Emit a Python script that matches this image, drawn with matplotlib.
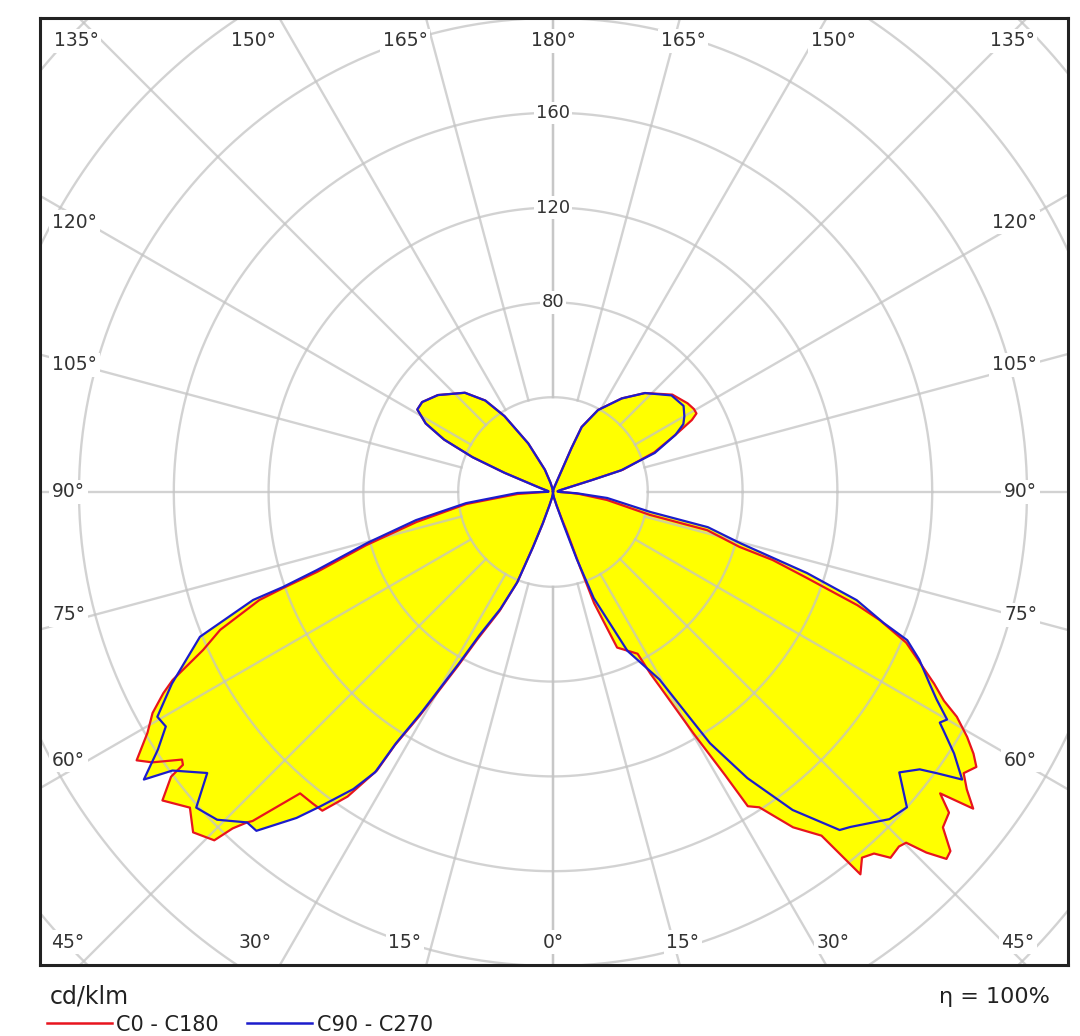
import numpy as np
import matplotlib
matplotlib.use("Agg")
import matplotlib.pyplot as plt
from matplotlib.lines import Line2D

# ---------------- data (gamma in degrees, intensity in cd/klm) ----------------
# C0 (right half of C0-C180)
gamma_c0 = [0, 5, 10, 15, 18, 19.2, 19.8, 20.3, 22.4, 27.6, 28.2, 28.8, 30.2, 31.3, 31.8,
            33.2, 35.6, 38.0, 38.8, 40.2, 41.6, 42.7, 44.3, 45.2, 46.0, 47.0, 47.9, 49.3, 51.0, 52.1,
            53.0, 54.3, 55.6, 57.0, 58.1, 59.4, 60.9, 61.9, 63.3, 65.0, 66.9, 68.6, 69.6, 71.3, 72.8,
            73.6, 76.1, 76.7, 81.6, 85.8, 88, 90, 95, 100, 104, 106, 107.1, 107.7, 111.4, 115.3,
            117.4, 118.7, 120.5, 123.4, 129.2, 137.1, 143.7, 151.2, 156.2, 157.2, 157.8, 160, 165, 170, 180]
cd_c0 = [0, 1, 2.5, 6, 12, 17, 34, 50, 71, 77, 87, 94, 118, 140, 156,
         159, 174, 184, 207, 202, 204, 210, 209, 210, 219, 227, 226, 217, 215, 207,
         222, 215, 210, 213, 209, 203, 195, 187, 180, 171, 162, 148, 137, 113, 97,
         82, 67, 42, 23, 11, 6, 3, 2, 2, 3, 6, 17, 31, 46, 58,
         66, 69, 69, 68, 65, 57, 49, 39.5, 30, 20, 12, 5, 2, 1, 0]

# C180 (left half of C0-C180)
gamma_c180 = [0, 5, 10, 15, 18, 20.0, 21.6, 24.2, 27.2, 28.7, 30.8, 32.0, 32.3, 34.0, 35.9,
              37.7, 40.0, 42.4, 42.8, 43.6, 44.2, 46.6, 49.0, 51.7, 53.3, 53.6, 54.2, 56.0, 57.2, 59.3,
              61.1, 62.7, 63.7, 65.7, 67.5, 69.8, 70.4, 71.3, 74.1, 77.6, 82.1, 86.8, 89, 92, 100,
              104, 107, 108.4, 111.6, 113.4, 115.7, 118.3, 121.3, 124.5, 130.1, 138.4, 143.5, 147.4, 153.0, 160.0,
              165, 170, 180]
cd_c180 = [0, 1, 2.5, 6, 14, 25, 41, 55, 70, 84, 110, 126, 139, 155, 166,
           166, 166, 188, 190, 196, 205, 209, 203, 210, 201, 194, 193, 204, 209, 199,
           193, 185, 179, 162, 152, 132, 121, 105, 82, 59, 37, 15, 5, 2, 2,
           3, 5, 7, 22, 37, 51, 61, 67, 67, 63.5, 56, 48, 38, 23, 10,
           4, 1.5, 0]

# C90 (right half of C90-C270)
gamma_c90 = [0, 5, 10, 15, 18, 19.5, 21, 25.1, 29.6, 32.0, 34.2, 37.0, 40.3, 41.6, 45.8,
             48.3, 51.0, 52.9, 53.8, 54.9, 56.9, 58.6, 59.2, 60.0, 61.6, 63.1, 65.4, 67.3, 68.4, 70.4,
             72.3, 74.7, 77.2, 78.4, 83.7, 87, 90, 95, 100, 104, 106, 107, 107.6, 111, 115,
             117.5, 120, 123.4, 129.2, 137.1, 143.7, 151.2, 156.2, 157.2, 157.8, 160, 165, 170, 180]
cd_c90 = [0, 1, 2.5, 6, 15, 30, 48, 74, 91, 125, 146, 168, 187, 189, 198,
          200, 188, 194, 201, 211, 202, 193, 190, 192, 184, 178, 170, 162, 150, 136,
          112.5, 82, 67, 42, 23, 10, 3, 2, 2, 3, 6, 17, 30, 46, 57,
          62, 64, 66, 64.5, 57, 49, 39.5, 30, 20, 12, 5, 2, 1, 0]

# C270 (left half of C90-C270)
gamma_c270 = [0, 5, 10, 15, 18, 20.0, 21.6, 24.2, 27.2, 28.7, 30.8, 32.0, 32.4, 33.9, 36.5,
              38.2, 41.2, 42.8, 45.7, 48.5, 50.9, 53.8, 54.9, 56.9, 58.8, 60.4, 63.3, 65.7, 67.7, 70.2,
              70.6, 71.7, 74.7, 78.4, 82.7, 88.4, 90, 92, 100, 104, 107, 108.4, 111.6, 113.4, 115.7,
              118.3, 121.3, 124.5, 130.1, 138.4, 143.5, 147.4, 153.0, 160.0, 165, 170, 180]
cd_c270 = [0, 1, 2.5, 6, 14, 25, 41, 54, 68, 82, 108, 125, 140, 151, 165,
           175, 190, 190, 198, 201, 188, 199, 211, 199, 191, 192, 180, 169, 161, 134.5,
           121, 105, 81, 59, 37, 15, 5, 2, 2, 3, 5, 7, 22, 37, 51,
           61, 67, 67, 63.5, 56, 48, 38, 23, 10, 4, 1.5, 0]

ring_values = [40, 80, 120, 160, 200, 240, 280]
ring_labels = [80, 120, 160]
grid_angles = list(range(0, 181, 15))

top_angles = [135, 150, 165, 180, 165, 150, 135]
bottom_angles = [45, 30, 15, 0, 15, 30, 45]
side_angles = [120, 105, 90, 75, 60]

unit_label = "cd/klm"
eta_label = "η = 100%"
legend_names = ["C0 - C180", "C90 - C270"]

# ---------------- layout ----------------
W, H = 1080, 1036
fig = plt.figure(figsize=(W / 100, H / 100), dpi=100)
plt.rcParams["font.family"] = ["DejaVu Sans"]

left_px, right_px, top_px, bot_px = 40, 1068, 18, 965
cx_px, cy_px = 553, 492
scale = 2.37  # px per cd/klm

ax = fig.add_axes([left_px / W, (H - bot_px) / H, (right_px - left_px) / W, (bot_px - top_px) / H])
ax.set_xlim(-(cx_px - left_px) / scale, (right_px - cx_px) / scale)
ax.set_ylim(-(bot_px - cy_px) / scale, (cy_px - top_px) / scale)
ax.set_xticks([])
ax.set_yticks([])
for sp in ax.spines.values():
    sp.set_linewidth(2.2)
    sp.set_color("#222222")
    sp.set_zorder(10)


def to_xy(gamma, cd, side):
    g = np.radians(np.asarray(gamma, float))
    r = np.asarray(cd, float)
    return side * r * np.sin(g), -r * np.cos(g)


def full_curve(g_right, r_right, g_left, r_left):
    xr, yr = to_xy(g_right, r_right, 1)
    xl, yl = to_xy(g_left, r_left, -1)
    x = np.concatenate([xr, xl[::-1]])
    y = np.concatenate([yr, yl[::-1]])
    return x, y


x_red, y_red = full_curve(gamma_c0, cd_c0, gamma_c180, cd_c180)
x_blue, y_blue = full_curve(gamma_c90, cd_c90, gamma_c270, cd_c270)

ax.fill(x_red, y_red, color="#ffff00", lw=0, zorder=1)
ax.fill(x_blue, y_blue, color="#ffff00", lw=0, zorder=1)

# grid
grid_kw = dict(color="#c4c4c4", lw=1.7, alpha=0.75, zorder=2)
t = np.linspace(0, 2 * np.pi, 720)
for rv in ring_values:
    ax.plot(rv * np.cos(t), rv * np.sin(t), **grid_kw)
for a in grid_angles:
    for side in (1, -1):
        xs, ys = to_xy([a, a], [ring_values[0], 400], side)
        ax.plot(xs, ys, **grid_kw)

# curves
ax.plot(x_red, y_red, color="#e8141e", lw=1.6, zorder=3)
ax.plot(x_blue, y_blue, color="#1c1ccc", lw=1.6, zorder=4)

# ring labels
for rv in ring_labels:
    ax.text(0, rv, str(rv), ha="center", va="center", fontsize=13, color="#333333", zorder=6,
            bbox=dict(facecolor="white", edgecolor="none", pad=1.5))

# angle labels
lab_kw = dict(fontsize=13.5, color="#333333", va="center", zorder=6,
              bbox=dict(facecolor="white", edgecolor="none", pad=2))


def ftext(xp, yp, s, **kw):
    fig.text(xp / W, 1 - yp / H, s, **kw)


top_x = [76, 253, 405, 553, 683, 833, 1012]
for a, xp in zip(top_angles, top_x):
    ftext(xp, 41, f"{a}°", ha="center", **lab_kw)
bot_x = [68, 255, 405, 553, 683, 833, 1018]
for a, xp in zip(bottom_angles, bot_x):
    ftext(xp, 942, f"{a}°", ha="center", **lab_kw)
side_y = [222, 365, 492, 615, 760]
for a, yp in zip(side_angles, side_y):
    ftext(52, yp, f"{a}°", ha="left", **lab_kw)
    ftext(1037, yp, f"{a}°", ha="right", **lab_kw)

# bottom texts and legend
ftext(50, 996, unit_label, ha="left", va="center", fontsize=17, color="#222222")
ftext(1050, 997, eta_label, ha="right", va="center", fontsize=16, color="#222222")
fig.add_artist(Line2D([47 / W, 112 / W], [1 - 1023 / H] * 2, color="#e8141e", lw=1.8))
ftext(116, 1025, legend_names[0], ha="left", va="center", fontsize=15, color="#222222")
fig.add_artist(Line2D([247 / W, 312 / W], [1 - 1023 / H] * 2, color="#1c1ccc", lw=1.8))
ftext(317, 1025, legend_names[1], ha="left", va="center", fontsize=15, color="#222222")

fig.savefig("out.png", dpi=100, facecolor="white")
